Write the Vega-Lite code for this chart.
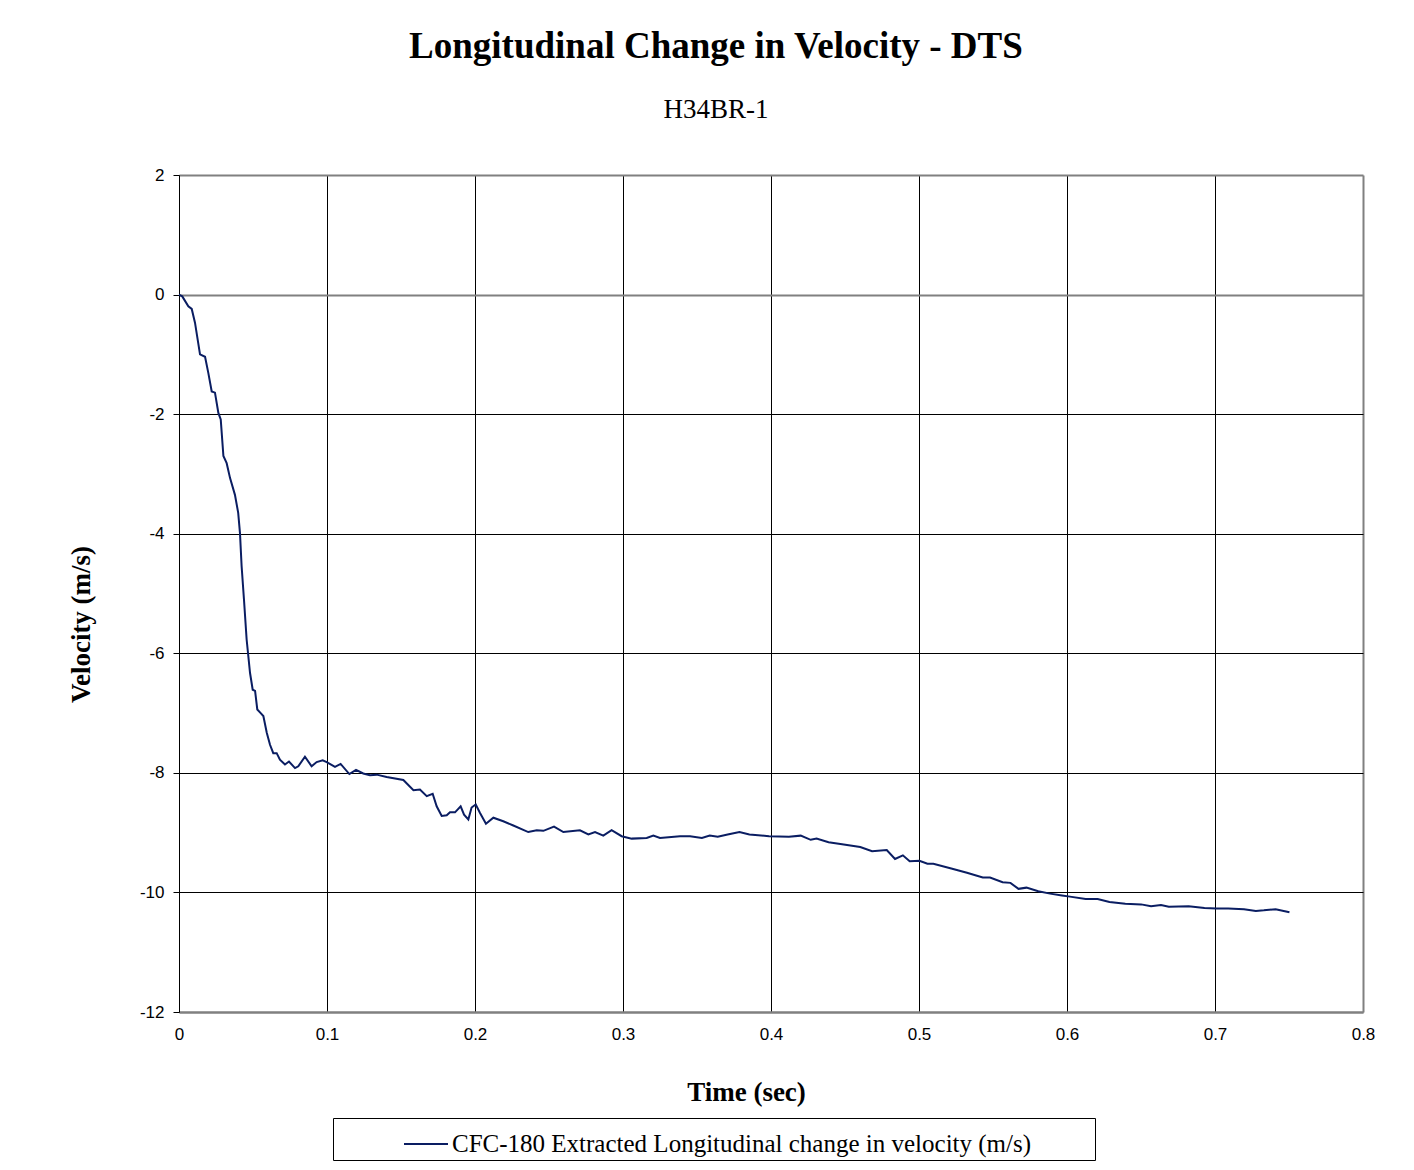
{
  "$schema": "https://vega.github.io/schema/vega-lite/v6.json",
  "width": 1184,
  "height": 837,
  "autosize": {"type": "none"},
  "padding": {"left": 179, "top": 175, "right": 51, "bottom": 158},
  "background": "#ffffff",
  "title": {
    "text": "Longitudinal Change in Velocity - DTS",
    "subtitle": "H34BR-1",
    "anchor": "middle",
    "frame": "bounds",
    "dx": -5,
    "font": "Liberation Serif",
    "fontSize": 37,
    "fontWeight": "bold",
    "color": "#000000",
    "subtitleFont": "Liberation Serif",
    "subtitleFontSize": 27,
    "subtitleColor": "#000000",
    "subtitlePadding": 31,
    "offset": 42
  },
  "data": {
    "values": [
      {"t": 0, "v": 0, "series": "CFC-180 Extracted Longitudinal change in velocity (m/s)"},
      {"t": 0.0022, "v": -0.03, "series": "CFC-180 Extracted Longitudinal change in velocity (m/s)"},
      {"t": 0.0063, "v": -0.195, "series": "CFC-180 Extracted Longitudinal change in velocity (m/s)"},
      {"t": 0.0086, "v": -0.24, "series": "CFC-180 Extracted Longitudinal change in velocity (m/s)"},
      {"t": 0.0108, "v": -0.47, "series": "CFC-180 Extracted Longitudinal change in velocity (m/s)"},
      {"t": 0.0142, "v": -1.0, "series": "CFC-180 Extracted Longitudinal change in velocity (m/s)"},
      {"t": 0.0176, "v": -1.04, "series": "CFC-180 Extracted Longitudinal change in velocity (m/s)"},
      {"t": 0.0198, "v": -1.31, "series": "CFC-180 Extracted Longitudinal change in velocity (m/s)"},
      {"t": 0.0221, "v": -1.62, "series": "CFC-180 Extracted Longitudinal change in velocity (m/s)"},
      {"t": 0.0243, "v": -1.64, "series": "CFC-180 Extracted Longitudinal change in velocity (m/s)"},
      {"t": 0.0266, "v": -1.98, "series": "CFC-180 Extracted Longitudinal change in velocity (m/s)"},
      {"t": 0.0282, "v": -2.09, "series": "CFC-180 Extracted Longitudinal change in velocity (m/s)"},
      {"t": 0.030, "v": -2.70, "series": "CFC-180 Extracted Longitudinal change in velocity (m/s)"},
      {"t": 0.0322, "v": -2.82, "series": "CFC-180 Extracted Longitudinal change in velocity (m/s)"},
      {"t": 0.0345, "v": -3.07, "series": "CFC-180 Extracted Longitudinal change in velocity (m/s)"},
      {"t": 0.0378, "v": -3.35, "series": "CFC-180 Extracted Longitudinal change in velocity (m/s)"},
      {"t": 0.040, "v": -3.65, "series": "CFC-180 Extracted Longitudinal change in velocity (m/s)"},
      {"t": 0.0412, "v": -3.99, "series": "CFC-180 Extracted Longitudinal change in velocity (m/s)"},
      {"t": 0.0423, "v": -4.54, "series": "CFC-180 Extracted Longitudinal change in velocity (m/s)"},
      {"t": 0.0439, "v": -5.10, "series": "CFC-180 Extracted Longitudinal change in velocity (m/s)"},
      {"t": 0.0457, "v": -5.77, "series": "CFC-180 Extracted Longitudinal change in velocity (m/s)"},
      {"t": 0.048, "v": -6.33, "series": "CFC-180 Extracted Longitudinal change in velocity (m/s)"},
      {"t": 0.0498, "v": -6.61, "series": "CFC-180 Extracted Longitudinal change in velocity (m/s)"},
      {"t": 0.0514, "v": -6.63, "series": "CFC-180 Extracted Longitudinal change in velocity (m/s)"},
      {"t": 0.0529, "v": -6.94, "series": "CFC-180 Extracted Longitudinal change in velocity (m/s)"},
      {"t": 0.0552, "v": -7.0, "series": "CFC-180 Extracted Longitudinal change in velocity (m/s)"},
      {"t": 0.057, "v": -7.05, "series": "CFC-180 Extracted Longitudinal change in velocity (m/s)"},
      {"t": 0.0593, "v": -7.33, "series": "CFC-180 Extracted Longitudinal change in velocity (m/s)"},
      {"t": 0.0615, "v": -7.53, "series": "CFC-180 Extracted Longitudinal change in velocity (m/s)"},
      {"t": 0.0637, "v": -7.67, "series": "CFC-180 Extracted Longitudinal change in velocity (m/s)"},
      {"t": 0.066, "v": -7.67, "series": "CFC-180 Extracted Longitudinal change in velocity (m/s)"},
      {"t": 0.0682, "v": -7.78, "series": "CFC-180 Extracted Longitudinal change in velocity (m/s)"},
      {"t": 0.0716, "v": -7.86, "series": "CFC-180 Extracted Longitudinal change in velocity (m/s)"},
      {"t": 0.0743, "v": -7.81, "series": "CFC-180 Extracted Longitudinal change in velocity (m/s)"},
      {"t": 0.0784, "v": -7.92, "series": "CFC-180 Extracted Longitudinal change in velocity (m/s)"},
      {"t": 0.0806, "v": -7.89, "series": "CFC-180 Extracted Longitudinal change in velocity (m/s)"},
      {"t": 0.0851, "v": -7.73, "series": "CFC-180 Extracted Longitudinal change in velocity (m/s)"},
      {"t": 0.0896, "v": -7.89, "series": "CFC-180 Extracted Longitudinal change in velocity (m/s)"},
      {"t": 0.093, "v": -7.82, "series": "CFC-180 Extracted Longitudinal change in velocity (m/s)"},
      {"t": 0.0971, "v": -7.79, "series": "CFC-180 Extracted Longitudinal change in velocity (m/s)"},
      {"t": 0.0998, "v": -7.82, "series": "CFC-180 Extracted Longitudinal change in velocity (m/s)"},
      {"t": 0.1054, "v": -7.90, "series": "CFC-180 Extracted Longitudinal change in velocity (m/s)"},
      {"t": 0.1092, "v": -7.85, "series": "CFC-180 Extracted Longitudinal change in velocity (m/s)"},
      {"t": 0.1151, "v": -8.02, "series": "CFC-180 Extracted Longitudinal change in velocity (m/s)"},
      {"t": 0.1196, "v": -7.95, "series": "CFC-180 Extracted Longitudinal change in velocity (m/s)"},
      {"t": 0.1245, "v": -8.01, "series": "CFC-180 Extracted Longitudinal change in velocity (m/s)"},
      {"t": 0.129, "v": -8.04, "series": "CFC-180 Extracted Longitudinal change in velocity (m/s)"},
      {"t": 0.1336, "v": -8.03, "series": "CFC-180 Extracted Longitudinal change in velocity (m/s)"},
      {"t": 0.1403, "v": -8.07, "series": "CFC-180 Extracted Longitudinal change in velocity (m/s)"},
      {"t": 0.1516, "v": -8.12, "series": "CFC-180 Extracted Longitudinal change in velocity (m/s)"},
      {"t": 0.1584, "v": -8.29, "series": "CFC-180 Extracted Longitudinal change in velocity (m/s)"},
      {"t": 0.1628, "v": -8.28, "series": "CFC-180 Extracted Longitudinal change in velocity (m/s)"},
      {"t": 0.1674, "v": -8.39, "series": "CFC-180 Extracted Longitudinal change in velocity (m/s)"},
      {"t": 0.1714, "v": -8.35, "series": "CFC-180 Extracted Longitudinal change in velocity (m/s)"},
      {"t": 0.1741, "v": -8.56, "series": "CFC-180 Extracted Longitudinal change in velocity (m/s)"},
      {"t": 0.1775, "v": -8.72, "series": "CFC-180 Extracted Longitudinal change in velocity (m/s)"},
      {"t": 0.1809, "v": -8.71, "series": "CFC-180 Extracted Longitudinal change in velocity (m/s)"},
      {"t": 0.1831, "v": -8.66, "series": "CFC-180 Extracted Longitudinal change in velocity (m/s)"},
      {"t": 0.1865, "v": -8.66, "series": "CFC-180 Extracted Longitudinal change in velocity (m/s)"},
      {"t": 0.1903, "v": -8.56, "series": "CFC-180 Extracted Longitudinal change in velocity (m/s)"},
      {"t": 0.1926, "v": -8.70, "series": "CFC-180 Extracted Longitudinal change in velocity (m/s)"},
      {"t": 0.1955, "v": -8.78, "series": "CFC-180 Extracted Longitudinal change in velocity (m/s)"},
      {"t": 0.1977, "v": -8.58, "series": "CFC-180 Extracted Longitudinal change in velocity (m/s)"},
      {"t": 0.2005, "v": -8.53, "series": "CFC-180 Extracted Longitudinal change in velocity (m/s)"},
      {"t": 0.2034, "v": -8.67, "series": "CFC-180 Extracted Longitudinal change in velocity (m/s)"},
      {"t": 0.2074, "v": -8.85, "series": "CFC-180 Extracted Longitudinal change in velocity (m/s)"},
      {"t": 0.2124, "v": -8.75, "series": "CFC-180 Extracted Longitudinal change in velocity (m/s)"},
      {"t": 0.2191, "v": -8.81, "series": "CFC-180 Extracted Longitudinal change in velocity (m/s)"},
      {"t": 0.2259, "v": -8.88, "series": "CFC-180 Extracted Longitudinal change in velocity (m/s)"},
      {"t": 0.236, "v": -8.99, "series": "CFC-180 Extracted Longitudinal change in velocity (m/s)"},
      {"t": 0.2417, "v": -8.96, "series": "CFC-180 Extracted Longitudinal change in velocity (m/s)"},
      {"t": 0.2462, "v": -8.97, "series": "CFC-180 Extracted Longitudinal change in velocity (m/s)"},
      {"t": 0.2534, "v": -8.90, "series": "CFC-180 Extracted Longitudinal change in velocity (m/s)"},
      {"t": 0.2597, "v": -8.99, "series": "CFC-180 Extracted Longitudinal change in velocity (m/s)"},
      {"t": 0.2709, "v": -8.96, "series": "CFC-180 Extracted Longitudinal change in velocity (m/s)"},
      {"t": 0.2766, "v": -9.03, "series": "CFC-180 Extracted Longitudinal change in velocity (m/s)"},
      {"t": 0.2811, "v": -8.99, "series": "CFC-180 Extracted Longitudinal change in velocity (m/s)"},
      {"t": 0.2867, "v": -9.05, "series": "CFC-180 Extracted Longitudinal change in velocity (m/s)"},
      {"t": 0.2923, "v": -8.96, "series": "CFC-180 Extracted Longitudinal change in velocity (m/s)"},
      {"t": 0.2991, "v": -9.06, "series": "CFC-180 Extracted Longitudinal change in velocity (m/s)"},
      {"t": 0.3059, "v": -9.10, "series": "CFC-180 Extracted Longitudinal change in velocity (m/s)"},
      {"t": 0.316, "v": -9.09, "series": "CFC-180 Extracted Longitudinal change in velocity (m/s)"},
      {"t": 0.3205, "v": -9.05, "series": "CFC-180 Extracted Longitudinal change in velocity (m/s)"},
      {"t": 0.325, "v": -9.09, "series": "CFC-180 Extracted Longitudinal change in velocity (m/s)"},
      {"t": 0.3385, "v": -9.06, "series": "CFC-180 Extracted Longitudinal change in velocity (m/s)"},
      {"t": 0.3453, "v": -9.06, "series": "CFC-180 Extracted Longitudinal change in velocity (m/s)"},
      {"t": 0.3533, "v": -9.09, "series": "CFC-180 Extracted Longitudinal change in velocity (m/s)"},
      {"t": 0.3586, "v": -9.05, "series": "CFC-180 Extracted Longitudinal change in velocity (m/s)"},
      {"t": 0.364, "v": -9.07, "series": "CFC-180 Extracted Longitudinal change in velocity (m/s)"},
      {"t": 0.3707, "v": -9.03, "series": "CFC-180 Extracted Longitudinal change in velocity (m/s)"},
      {"t": 0.3787, "v": -8.99, "series": "CFC-180 Extracted Longitudinal change in velocity (m/s)"},
      {"t": 0.3854, "v": -9.03, "series": "CFC-180 Extracted Longitudinal change in velocity (m/s)"},
      {"t": 0.3987, "v": -9.06, "series": "CFC-180 Extracted Longitudinal change in velocity (m/s)"},
      {"t": 0.4121, "v": -9.07, "series": "CFC-180 Extracted Longitudinal change in velocity (m/s)"},
      {"t": 0.4201, "v": -9.05, "series": "CFC-180 Extracted Longitudinal change in velocity (m/s)"},
      {"t": 0.4268, "v": -9.12, "series": "CFC-180 Extracted Longitudinal change in velocity (m/s)"},
      {"t": 0.4308, "v": -9.10, "series": "CFC-180 Extracted Longitudinal change in velocity (m/s)"},
      {"t": 0.4389, "v": -9.16, "series": "CFC-180 Extracted Longitudinal change in velocity (m/s)"},
      {"t": 0.4469, "v": -9.19, "series": "CFC-180 Extracted Longitudinal change in velocity (m/s)"},
      {"t": 0.4603, "v": -9.24, "series": "CFC-180 Extracted Longitudinal change in velocity (m/s)"},
      {"t": 0.4683, "v": -9.31, "series": "CFC-180 Extracted Longitudinal change in velocity (m/s)"},
      {"t": 0.4782, "v": -9.29, "series": "CFC-180 Extracted Longitudinal change in velocity (m/s)"},
      {"t": 0.4838, "v": -9.44, "series": "CFC-180 Extracted Longitudinal change in velocity (m/s)"},
      {"t": 0.4891, "v": -9.38, "series": "CFC-180 Extracted Longitudinal change in velocity (m/s)"},
      {"t": 0.4937, "v": -9.48, "series": "CFC-180 Extracted Longitudinal change in velocity (m/s)"},
      {"t": 0.5003, "v": -9.47, "series": "CFC-180 Extracted Longitudinal change in velocity (m/s)"},
      {"t": 0.5057, "v": -9.52, "series": "CFC-180 Extracted Longitudinal change in velocity (m/s)"},
      {"t": 0.5097, "v": -9.52, "series": "CFC-180 Extracted Longitudinal change in velocity (m/s)"},
      {"t": 0.5218, "v": -9.60, "series": "CFC-180 Extracted Longitudinal change in velocity (m/s)"},
      {"t": 0.5324, "v": -9.67, "series": "CFC-180 Extracted Longitudinal change in velocity (m/s)"},
      {"t": 0.5431, "v": -9.75, "series": "CFC-180 Extracted Longitudinal change in velocity (m/s)"},
      {"t": 0.548, "v": -9.75, "series": "CFC-180 Extracted Longitudinal change in velocity (m/s)"},
      {"t": 0.5565, "v": -9.83, "series": "CFC-180 Extracted Longitudinal change in velocity (m/s)"},
      {"t": 0.5618, "v": -9.84, "series": "CFC-180 Extracted Longitudinal change in velocity (m/s)"},
      {"t": 0.5672, "v": -9.94, "series": "CFC-180 Extracted Longitudinal change in velocity (m/s)"},
      {"t": 0.5726, "v": -9.92, "series": "CFC-180 Extracted Longitudinal change in velocity (m/s)"},
      {"t": 0.5806, "v": -9.98, "series": "CFC-180 Extracted Longitudinal change in velocity (m/s)"},
      {"t": 0.5886, "v": -10.02, "series": "CFC-180 Extracted Longitudinal change in velocity (m/s)"},
      {"t": 0.5966, "v": -10.05, "series": "CFC-180 Extracted Longitudinal change in velocity (m/s)"},
      {"t": 0.602, "v": -10.07, "series": "CFC-180 Extracted Longitudinal change in velocity (m/s)"},
      {"t": 0.6126, "v": -10.11, "series": "CFC-180 Extracted Longitudinal change in velocity (m/s)"},
      {"t": 0.6207, "v": -10.11, "series": "CFC-180 Extracted Longitudinal change in velocity (m/s)"},
      {"t": 0.6287, "v": -10.16, "series": "CFC-180 Extracted Longitudinal change in velocity (m/s)"},
      {"t": 0.6394, "v": -10.19, "series": "CFC-180 Extracted Longitudinal change in velocity (m/s)"},
      {"t": 0.6501, "v": -10.20, "series": "CFC-180 Extracted Longitudinal change in velocity (m/s)"},
      {"t": 0.6568, "v": -10.23, "series": "CFC-180 Extracted Longitudinal change in velocity (m/s)"},
      {"t": 0.6635, "v": -10.21, "series": "CFC-180 Extracted Longitudinal change in velocity (m/s)"},
      {"t": 0.6688, "v": -10.24, "series": "CFC-180 Extracted Longitudinal change in velocity (m/s)"},
      {"t": 0.6822, "v": -10.23, "series": "CFC-180 Extracted Longitudinal change in velocity (m/s)"},
      {"t": 0.6929, "v": -10.26, "series": "CFC-180 Extracted Longitudinal change in velocity (m/s)"},
      {"t": 0.7009, "v": -10.27, "series": "CFC-180 Extracted Longitudinal change in velocity (m/s)"},
      {"t": 0.7089, "v": -10.27, "series": "CFC-180 Extracted Longitudinal change in velocity (m/s)"},
      {"t": 0.7196, "v": -10.28, "series": "CFC-180 Extracted Longitudinal change in velocity (m/s)"},
      {"t": 0.7276, "v": -10.31, "series": "CFC-180 Extracted Longitudinal change in velocity (m/s)"},
      {"t": 0.733, "v": -10.30, "series": "CFC-180 Extracted Longitudinal change in velocity (m/s)"},
      {"t": 0.741, "v": -10.28, "series": "CFC-180 Extracted Longitudinal change in velocity (m/s)"},
      {"t": 0.7503, "v": -10.33, "series": "CFC-180 Extracted Longitudinal change in velocity (m/s)"}
    ]
  },
  "mark": {"type": "line", "strokeWidth": 2, "interpolate": "linear"},
  "encoding": {
    "x": {
      "field": "t",
      "type": "quantitative",
      "scale": {"domain": [0, 0.8], "nice": false, "zero": false},
      "axis": {
        "values": [0, 0.1, 0.2, 0.3, 0.4, 0.5, 0.6, 0.7, 0.8],
        "format": ".1~f",
        "title": "Time (sec)",
        "titleFont": "Liberation Serif",
        "titleFontSize": 27,
        "titleFontWeight": "bold",
        "titleColor": "#000000",
        "titleX": 567,
        "titleY": 80,
        "titleAlign": "center",
        "titleBaseline": "middle",
        "labelFont": "Liberation Sans",
        "labelFontSize": 17,
        "labelColor": "#000000",
        "labelPadding": 14,
        "labelFlush": false,
        "labelOverlap": false,
        "ticks": false,
        "domainColor": "#808080",
        "domainWidth": 2,
        "grid": true,
        "gridColor": {"condition": {"test": "datum.value >= 0.79", "value": "#808080"}, "value": "#000000"},
        "gridWidth": {"condition": {"test": "datum.value >= 0.79", "value": 2}, "value": 1},
        "gridOpacity": 1
      }
    },
    "y": {
      "field": "v",
      "type": "quantitative",
      "scale": {"domain": [-12, 2], "nice": false, "zero": false},
      "axis": {
        "values": [-12, -10, -8, -6, -4, -2, 0, 2],
        "labelExpr": "toString(datum.value)",
        "title": "Velocity (m/s)",
        "titleFont": "Liberation Serif",
        "titleFontSize": 27,
        "titleFontWeight": "bold",
        "titleColor": "#000000",
        "titleX": -98,
        "titleY": 449,
        "titleAngle": -90,
        "titleAlign": "center",
        "titleBaseline": "middle",
        "labelFont": "Liberation Sans",
        "labelFontSize": 17,
        "labelColor": "#000000",
        "labelPadding": 9,
        "labelFlush": false,
        "labelOverlap": false,
        "ticks": true,
        "tickSize": 6,
        "tickColor": "#000000",
        "domainColor": "#000000",
        "domainWidth": 1,
        "grid": true,
        "gridColor": {"condition": {"test": "datum.value == 2 || datum.value == 0 || datum.value == -12", "value": "#808080"}, "value": "#000000"},
        "gridWidth": {"condition": {"test": "datum.value == 2 || datum.value == 0 || datum.value == -12", "value": 2}, "value": 1},
        "gridOpacity": 1
      }
    },
    "color": {
      "field": "series",
      "type": "nominal",
      "scale": {"range": ["#0a1d62"]},
      "legend": {
        "orient": "none",
        "legendX": 154,
        "legendY": 943,
        "title": "\u00a0",
        "titleOrient": "left",
        "titleFontSize": 20,
        "titlePadding": 67,
        "padding": 3,
        "strokeColor": "#000000",
        "fillColor": "#ffffff",
        "labelFont": "Liberation Serif",
        "labelFontSize": 25,
        "labelColor": "#000000",
        "labelLimit": 2000,
        "labelOffset": 3,
        "labelExpr": "datum.label + '\u2800\u00a0\u2800\u2800'",
        "symbolType": "stroke",
        "symbolSize": 1936,
        "symbolStrokeWidth": 2
      }
    }
  },
  "config": {
    "view": {"stroke": null}
  }
}
